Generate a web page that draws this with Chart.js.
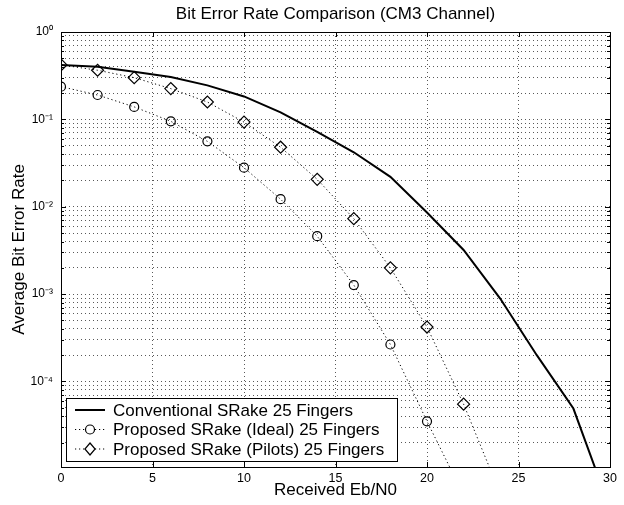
<!DOCTYPE html>
<html>
<head>
<meta charset="utf-8">
<script src="https://cdn.jsdelivr.net/npm/chart.js@4.4.0/dist/chart.umd.min.js"></script>
<style>
  html, body { margin: 0; padding: 0; background: #fff; }
  #wrap { width: 624px; height: 505px; }
</style>
</head>
<body>
<div id="wrap"><canvas id="chart" width="624" height="505"></canvas></div>
<script>
// Eb/N0 values (dB) for each series
const convX = [0, 2, 4, 6, 8, 10, 12, 14, 16, 18, 20, 22, 24, 26, 28, 30];
const convBer = [0.42, 0.40, 0.35, 0.305, 0.245, 0.183, 0.12, 0.072, 0.042, 0.022, 0.0086, 0.0032, 0.00089, 0.0002, 0.000049, 0.0000035];

const idealX = [0, 2, 4, 6, 8, 10, 12, 14, 16, 18, 20, 22];
const idealBer = [0.237, 0.19, 0.139, 0.095, 0.056, 0.028, 0.0122, 0.0046, 0.00127, 0.000265, 0.000035, 0.000005];

const pilotX = [0, 2, 4, 6, 8, 10, 12, 14, 16, 18, 20, 22, 24];
const pilotBer = [0.42, 0.365, 0.30, 0.225, 0.158, 0.093, 0.048, 0.0206, 0.0073, 0.0020, 0.00042, 0.000055, 0.0000052];

const seriesNames = [
  'Conventional SRake 25 Fingers',
  'Proposed SRake (Ideal) 25 Fingers',
  'Proposed SRake (Pilots) 25 Fingers'
];

// axis ticks
const xTicks = [0, 5, 10, 15, 20, 25, 30];
const yDecades = [0.0001, 0.001, 0.01, 0.1, 1];
const yTickLabels = ['10\u207B\u2074', '10\u207B\u00B3', '10\u207B\u00B2', '10\u207B\u00B9', '10\u2070'];

const FONT = "'Liberation Sans', Arial, sans-serif";
const toPts = (xs, ys) => xs.map((x, i) => ({ x: x, y: ys[i] }));

// minor + major log ticks (1..9 per decade)
const yAllTicks = [];
[0.00001].concat(yDecades).forEach(d => {
  for (let m = 1; m <= 9; m++) {
    const v = m === 1 ? d : m * d;
    if (v >= 0.0000105 && v <= 1) yAllTicks.push(v);
  }
});

// box, inward ticks and in-axes legend
const matlabAxes = {
  id: 'matlabAxes',
  afterDatasetsDraw(chart) {
    const { ctx, chartArea: a, scales } = chart;
    ctx.save();
    ctx.strokeStyle = '#000';
    ctx.lineWidth = 1;
    ctx.strokeRect(Math.round(a.left) + 0.5, Math.round(a.top) + 0.5,
      Math.round(a.right - a.left), Math.round(a.bottom - a.top));
    ctx.beginPath();
    xTicks.forEach(v => {
      const px = Math.round(scales.x.getPixelForValue(v)) + 0.5;
      ctx.moveTo(px, a.bottom); ctx.lineTo(px, a.bottom - 5);
      ctx.moveTo(px, a.top); ctx.lineTo(px, a.top + 5);
    });
    yAllTicks.forEach(v => {
      const len = yDecades.includes(v) ? 5 : 3;
      const py = Math.round(scales.y.getPixelForValue(v)) + 0.5;
      ctx.moveTo(a.left, py); ctx.lineTo(a.left + len, py);
      ctx.moveTo(a.right, py); ctx.lineTo(a.right - len, py);
    });
    ctx.stroke();

    // legend
    const bx = a.left + 5, bw = 331, bh = 63, by = a.bottom - 6 - bh;
    ctx.fillStyle = '#fff';
    ctx.fillRect(bx, by, bw, bh);
    ctx.strokeRect(Math.round(bx) + 0.5, Math.round(by) + 0.5, bw, bh);
    ctx.font = '17px ' + FONT;
    ctx.textBaseline = 'middle';
    chart.data.datasets.forEach((ds, i) => {
      const y = by + 12 + i * 19.5;
      ctx.save();
      ctx.strokeStyle = ds.borderColor;
      ctx.lineWidth = ds.borderWidth;
      ctx.setLineDash(ds.borderDash || []);
      ctx.beginPath();
      ctx.moveTo(bx + 9, y); ctx.lineTo(bx + 39, y);
      ctx.stroke();
      ctx.restore();
      if (ds.pointRadius > 0) {
        ctx.save();
        ctx.fillStyle = '#fff';
        ctx.strokeStyle = '#000';
        ctx.lineWidth = 1.2;
        ctx.beginPath();
        if (ds.pointStyle === 'circle') {
          ctx.arc(bx + 24, y, ds.pointRadius, 0, Math.PI * 2);
        } else {
          const r = ds.pointRadius;
          ctx.moveTo(bx + 24, y - r); ctx.lineTo(bx + 24 + r * 0.85, y);
          ctx.lineTo(bx + 24, y + r); ctx.lineTo(bx + 24 - r * 0.85, y);
          ctx.closePath();
        }
        ctx.fill(); ctx.stroke();
        ctx.restore();
      }
      ctx.fillStyle = '#000';
      ctx.fillText(seriesNames[i], bx + 47, y + 1);
    });
    ctx.restore();
  }
};

new Chart(document.getElementById('chart'), {
  type: 'line',
  data: {
    datasets: [
      {
        label: seriesNames[0],
        data: toPts(convX, convBer),
        borderColor: '#000',
        borderWidth: 2,
        pointRadius: 0,
        tension: 0
      },
      {
        label: seriesNames[1],
        data: toPts(idealX, idealBer),
        borderColor: '#000',
        borderWidth: 1,
        borderDash: [1.2, 2.8],
        pointStyle: 'circle',
        pointRadius: 4.5,
        pointBorderWidth: 1.2,
        pointBorderColor: '#000',
        pointBackgroundColor: 'rgba(255,255,255,0)',
        tension: 0
      },
      {
        label: seriesNames[2],
        data: toPts(pilotX, pilotBer),
        borderColor: '#000',
        borderWidth: 1,
        borderDash: [1.2, 2.8],
        pointStyle: 'rectRot',
        pointRadius: 6,
        pointBorderWidth: 1.2,
        pointBorderColor: '#000',
        pointBackgroundColor: 'rgba(255,255,255,0)',
        tension: 0
      }
    ]
  },
  options: {
    responsive: false,
    animation: false,
    devicePixelRatio: 1,
    layout: { padding: { left: 0, right: 14, top: 0, bottom: 0 } },
    plugins: {
      legend: { display: false },
      tooltip: { enabled: false },
      title: {
        display: true,
        fullSize: false,
        text: 'Bit Error Rate Comparison (CM3 Channel)',
        color: '#000',
        font: { family: FONT, size: 17, weight: 'normal' },
        padding: { top: 3.8, bottom: 7.8 }
      }
    },
    scales: {
      x: {
        type: 'linear',
        min: 0,
        max: 30,
        afterBuildTicks: s => { s.ticks = xTicks.map(v => ({ value: v })); },
        afterFit: s => { s.height = 38; },
        ticks: { color: '#000', font: { family: FONT, size: 12.5 }, padding: 4, maxRotation: 0 },
        grid: { color: 'rgba(0,0,0,0.65)', lineWidth: 1, drawTicks: false },
        border: { display: false, dash: [1, 3] },
        title: {
          display: true,
          text: 'Received Eb/N0',
          color: '#000',
          font: { family: FONT, size: 17 },
          padding: { top: 2.8 }
        }
      },
      y: {
        type: 'logarithmic',
        min: 0.0000105,
        max: 1,
        afterBuildTicks: s => { s.ticks = yAllTicks.map(v => ({ value: v })); },
        afterFit: s => { s.width = 61; },
        ticks: {
          color: '#000',
          font: { family: FONT, size: 12 },
          padding: 8,
          autoSkip: false,
          callback: v => {
            const i = yDecades.indexOf(v);
            return i >= 0 ? yTickLabels[i] : '';
          }
        },
        grid: { color: 'rgba(0,0,0,0.65)', lineWidth: 1, drawTicks: false },
        border: { display: false, dash: [1, 3] },
        title: {
          display: true,
          text: 'Average Bit Error Rate',
          color: '#000',
          font: { family: FONT, size: 17 },
          padding: { top: 9 }
        }
      }
    }
  },
  plugins: [matlabAxes]
});
</script>
</body>
</html>
